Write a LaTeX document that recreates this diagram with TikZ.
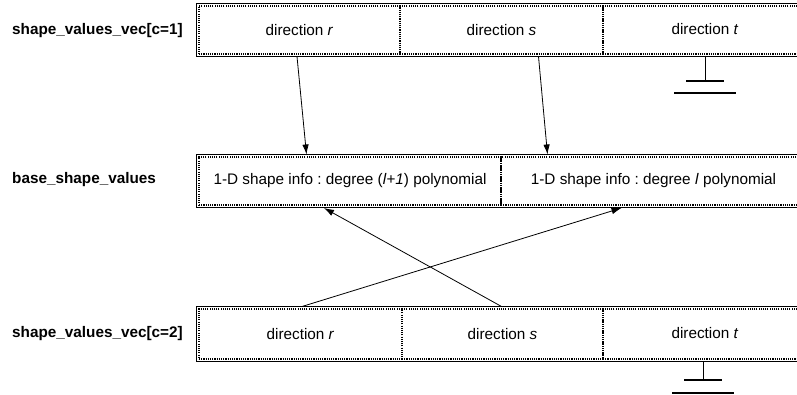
\documentclass[tikz,border=0pt]{standalone}
\usepackage{fontspec}
\setmainfont{Liberation Sans}
\usetikzlibrary{arrows.meta}
\begin{document}
\frenchspacing
\begin{tikzpicture}[x=1pt,y=-1pt,
  txt/.style={font=\fontsize{15.3}{18}\selectfont},
  cell/.style={draw, dash pattern=on 1.1pt off 1.1pt, line width=2pt, inner sep=0pt, anchor=north west, txt},
  outerbox/.style={draw, line width=1.3pt},
  rowlabel/.style={anchor=west, inner sep=0pt, font=\fontsize{15.3}{18}\selectfont\bfseries},
  arr/.style={-{Latex[length=10pt,width=6.5pt]}, line width=0.8pt},
  groundbar/.style={line width=1.8pt},
  groundstem/.style={line width=1pt}]
\useasboundingbox (0,0) rectangle (797,395);
\begin{scope}
\clip (0,0) rectangle (797,395);
% labels
\node[rowlabel] (L1) at (12,31) {shape\_values\_vec[c=1]};
\node[rowlabel] (L2) at (12,180) {base\_shape\_values};
\node[rowlabel] (L3) at (12,334) {shape\_values\_vec[c=2]};
% top row
\node[cell, minimum width=201pt, minimum height=48pt] (r1) at (198,5) {direction \textit{r}};
\node[cell, minimum width=203pt, minimum height=48pt] (s1) at (399,5) {direction \textit{s}};
\node[cell, minimum width=204pt, minimum height=48pt] (t1) at (602,5) {\raisebox{2pt}{direction \textit{t}}};
\path[outerbox] ([shift={(-1.5,-1.5)}]r1.north west) rectangle ([shift={(1.5,1.5)}]t1.south east);
% middle row
\node[cell, minimum width=302pt, minimum height=48pt] (m1) at (198,156) {1-D shape info : degree (\textit{l}+\textit{1}) polynomial};
\node[cell, minimum width=305pt, minimum height=48pt] (m2) at (500,156) {1-D shape info : degree \textit{l} polynomial};
\path[outerbox] ([shift={(-1.5,-1.5)}]m1.north west) rectangle ([shift={(1.5,1.5)}]m2.south east);
% bottom row
\node[cell, minimum width=203pt, minimum height=50pt] (r2) at (198,308) {direction \textit{r}};
\node[cell, minimum width=201pt, minimum height=50pt] (s2) at (401,308) {direction \textit{s}};
\node[cell, minimum width=204pt, minimum height=50pt] (t2) at (602,308) {\raisebox{2pt}{direction \textit{t}}};
\path[outerbox] ([shift={(-1.5,-1.5)}]r2.north west) rectangle ([shift={(1.5,1.5)}]t2.south east);
% grounds
\coordinate (g1) at ([shift={(0,26)}]t1.south);
\draw[groundstem] ([shift={(0,1.5)}]t1.south) -- (g1);
\draw[groundbar] ([shift={(-19,0)}]g1) -- ([shift={(19,0)}]g1);
\draw[groundbar] ([shift={(-31,12)}]g1) -- ([shift={(31,12)}]g1);
\coordinate (g2) at ([shift={(-2,20)}]t2.south);
\draw[groundstem] ([shift={(-2,1.5)}]t2.south) -- (g2);
\draw[groundbar] ([shift={(-19,0)}]g2) -- ([shift={(19,0)}]g2);
\draw[groundbar] ([shift={(-31,13)}]g2) -- ([shift={(31,13)}]g2);
% arrows
\draw[arr] ([shift={(-2.5,1.5)}]r1.south) -- ([shift={(-43.5,-1.5)}]m1.north);
\draw[arr] ([shift={(37,1.5)}]s1.south) -- ([shift={(-106,-1.5)}]m2.north);
\draw[arr] ([shift={(1.5,-1.5)}]r2.north) -- ([shift={(-32,2)}]m2.south);
\draw[arr] ([shift={(-1,-1.5)}]s2.north) -- ([shift={(-26,2)}]m1.south);
\end{scope}
\end{tikzpicture}
\end{document}
